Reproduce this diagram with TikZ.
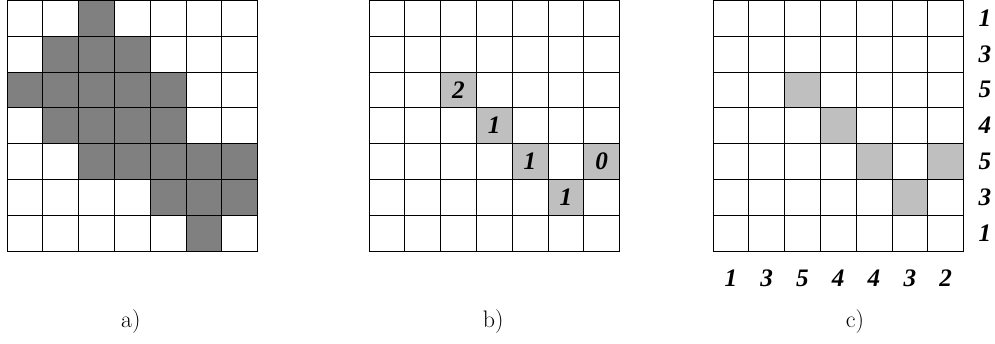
\documentclass[tikz,border=0pt]{standalone}
\usepackage{fontspec}
\newfontfamily\numfont{Liberation Serif}

\begin{document}
\begin{tikzpicture}[
    num/.style={font=\numfont\bfseries\itshape\fontsize{20}{24}\selectfont},
    sublabel/.style={font=\fontsize{19}{22}\selectfont}]
    \useasboundingbox (-0.196,-2.598) rectangle (27.6,7.01);

    % a)
    \fill[gray] (2,6) rectangle (3,7);
    \fill[gray] (1,5) rectangle (4,6);
    \fill[gray] (0,4) rectangle (5,5);
    \fill[gray] (1,3) rectangle (5,4);
    \fill[gray] (2,2) rectangle (7,3);
    \fill[gray] (4,1) rectangle (7,2);
    \fill[gray] (5,0) rectangle (6,1);
    \draw[line width=0.6pt] (0,0) grid (7,7);
    \node[sublabel] (capa) at (3.46,-1.98) {a)};

    % b)
    \fill[black!25] (2+10.11,4) rectangle (3+10.11,5);
    \fill[black!25] (3+10.11,3) rectangle (4+10.11,4);
    \fill[black!25] (4+10.11,2) rectangle (5+10.11,3);
    \fill[black!25] (6+10.11,2) rectangle (7+10.11,3);
    \fill[black!25] (5+10.11,1) rectangle (6+10.11,2);
    \draw[line width=0.6pt,shift={(10.11,0)}] (0,0) grid (7,7);
    \node[num] (b1) at (2.5+10.11,4.5) {2};
    \node[num] (b2) at (3.5+10.11,3.5) {1};
    \node[num] (b3) at (4.5+10.11,2.5) {1};
    \node[num] (b4) at (6.5+10.11,2.5) {0};
    \node[num] (b5) at (5.5+10.11,1.5) {1};
    \node[sublabel] (capb) at (13.58,-1.98) {b)};

    % c)
    \fill[black!25] (2+19.72,4) rectangle (3+19.72,5);
    \fill[black!25] (3+19.72,3) rectangle (4+19.72,4);
    \fill[black!25] (4+19.72,2) rectangle (5+19.72,3);
    \fill[black!25] (6+19.72,2) rectangle (7+19.72,3);
    \fill[black!25] (5+19.72,1) rectangle (6+19.72,2);
    \draw[line width=0.6pt,shift={(19.72,0)}] (0,0) grid (7,7);
    \node[num] (r1) at (27.32,6.5) {1};
    \node[num] (r2) at (27.32,5.5) {3};
    \node[num] (r3) at (27.32,4.5) {5};
    \node[num] (r4) at (27.32,3.5) {4};
    \node[num] (r5) at (27.32,2.5) {5};
    \node[num] (r6) at (27.32,1.5) {3};
    \node[num] (r7) at (27.32,0.5) {1};
    \node[num] (c1) at (0.5+19.72,-0.754) {1};
    \node[num] (c2) at (1.5+19.72,-0.754) {3};
    \node[num] (c3) at (2.5+19.72,-0.754) {5};
    \node[num] (c4) at (3.5+19.72,-0.754) {4};
    \node[num] (c5) at (4.5+19.72,-0.754) {4};
    \node[num] (c6) at (5.5+19.72,-0.754) {3};
    \node[num] (c7) at (6.5+19.72,-0.754) {2};
    \node[sublabel] (capc) at (23.69,-1.98) {c)};
\end{tikzpicture}
\end{document}
